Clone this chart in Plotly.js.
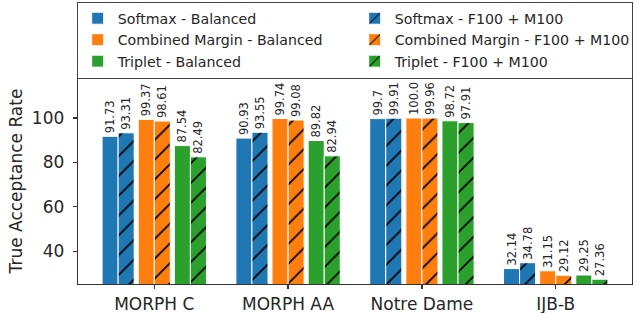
<!DOCTYPE html>
<html><head><meta charset="utf-8">
<script src="https://cdn.plot.ly/plotly-3.0.1.min.js"></script>
<style>html,body{margin:0;padding:0;background:#fff;}#chart{width:637px;height:313px;}</style>
</head><body><div id="chart"></div>
<script>
const categories = ['MORPH C', 'MORPH AA', 'Notre Dame', 'IJB-B'];
const seriesNames = ['Softmax - Balanced', 'Softmax - F100 + M100',
  'Combined Margin - Balanced', 'Combined Margin - F100 + M100',
  'Triplet - Balanced', 'Triplet - F100 + M100'];
const softmaxBalanced  = [91.73, 90.93, 99.7, 32.14];
const softmaxF100M100  = [93.31, 93.55, 99.91, 34.78];
const combinedBalanced = [99.37, 99.74, 100.0, 31.15];
const combinedF100M100 = [98.61, 99.08, 99.96, 29.12];
const tripletBalanced  = [87.54, 89.82, 98.72, 29.25];
const tripletF100M100  = [82.49, 82.94, 97.91, 27.36];
const yTickValues = [40, 60, 80, 100];

const seriesValues = [softmaxBalanced, softmaxF100M100, combinedBalanced,
  combinedF100M100, tripletBalanced, tripletF100M100];
const colors = ['#1f77b4', '#1f77b4', '#ff7f0e', '#ff7f0e', '#2ca02c', '#2ca02c'];
const hatched = [false, true, false, true, false, true];
const centers = [-0.33, -0.21, -0.06, 0.06, 0.21, 0.33];
const barWidth = 0.12;
const FONT = 'DejaVu Sans, sans-serif';

function fmt(v) { return Number.isInteger(v) ? v.toFixed(1) : String(v); }

const traces = seriesValues.map((vals, i) => {
  const marker = { color: colors[i], line: { color: '#ffffff', width: 1 } };
  if (hatched[i]) {
    marker.pattern = { shape: '/', fgcolor: '#000000', bgcolor: colors[i], size: 14, solidity: 0.12, fillmode: 'replace' };
  }
  return {
    type: 'bar', name: seriesNames[i], x: categories, y: vals,
    width: barWidth, offset: centers[i] - barWidth / 2,
    marker: marker,
    text: vals.map(fmt), textposition: 'outside', textangle: -90,
    constraintext: 'none', cliponaxis: false,
    textfont: { family: FONT, size: 11.5, color: '#262626' },
    hoverinfo: 'skip'
  };
});

const layout = {
  width: 637, height: 313,
  margin: { l: 78, r: 5, t: 77.5, b: 29, pad: 0, autoexpand: false },
  paper_bgcolor: '#ffffff', plot_bgcolor: '#ffffff',
  font: { family: FONT, color: '#262626' },
  barmode: 'overlay',
  showlegend: true,
  legend: {
    orientation: 'h', xref: 'container', yref: 'container',
    x: 76.7 / 637, xanchor: 'left', y: 1 - 1.5 / 313, yanchor: 'top',
    entrywidth: 232, entrywidthmode: 'pixels',
    font: { family: FONT, size: 14.2, color: '#262626' },
    bordercolor: '#444444', borderwidth: 1, bgcolor: '#ffffff',
    traceorder: 'normal'
  },
  xaxis: {
    type: 'category', range: [-0.57, 3.57],
    showline: true, linecolor: '#333333', linewidth: 1.3, mirror: true,
    ticks: 'outside', ticklen: 4, tickwidth: 1.3, tickcolor: '#333333',
    ticklabelstandoff: 0,
    tickfont: { family: FONT, size: 17, color: '#262626' },
    showgrid: false, zeroline: false, fixedrange: true
  },
  yaxis: {
    range: [25.2, 118], tickvals: yTickValues,
    showline: true, linecolor: '#333333', linewidth: 1.3, mirror: true,
    ticks: 'outside', ticklen: 4, tickwidth: 1.3, tickcolor: '#333333',
    ticklabelstandoff: 5,
    tickfont: { family: FONT, size: 17, color: '#262626' },
    title: { text: 'True Acceptance Rate', font: { family: FONT, size: 17, color: '#262626' }, standoff: 5 },
    showgrid: false, zeroline: false, fixedrange: true
  }
};

Plotly.newPlot('chart', traces, layout, { staticPlot: true, displayModeBar: false });
</script>
</body></html>
